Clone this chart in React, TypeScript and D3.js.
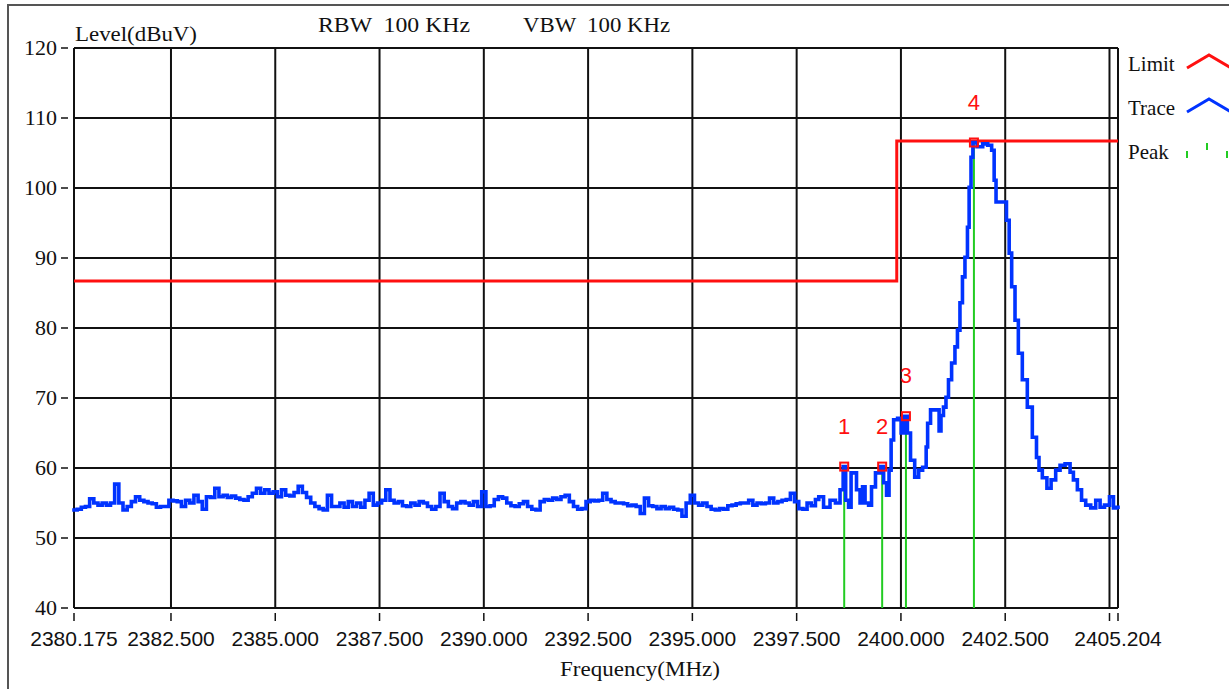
import React from "react";
import * as d3 from "d3";

// ---- data ----
const xTicks = [2380.175, 2382.5, 2385.0, 2387.5, 2390.0, 2392.5, 2395.0, 2397.5, 2400.0, 2402.5, 2405.0, 2405.204];
const xTickLabels = ["2380.175", "2382.500", "2385.000", "2387.500", "2390.000", "2392.500", "2395.000", "2397.500", "2400.000", "2402.500", "", "2405.204"];
const yTicks = [40, 50, 60, 70, 80, 90, 100, 110, 120];

// noise floor: levels every 0.1 MHz starting at 2380.2 MHz
const noiseStart = 2380.2;
const noiseStep = 0.1;
const noiseLevels = [
  54.0, 54.1, 54.4, 54.5, 55.6, 55.0, 54.7, 55.0, 54.7, 55.0,
  57.7, 55.0, 54.0, 54.5, 55.2, 55.9, 55.4, 55.2, 55.0, 54.9,
  54.4, 54.5, 54.5, 55.4, 55.3, 55.2, 54.5, 55.4, 55.0, 56.1,
  55.2, 54.1, 55.9, 55.8, 57.1, 55.9, 56.1, 55.8, 56.0, 55.7,
  55.5, 55.4, 55.9, 56.4, 57.1, 56.4, 56.9, 56.4, 56.6, 55.9,
  56.9, 56.1, 56.0, 56.5, 57.4, 56.5, 55.8, 55.0, 54.5, 54.2,
  54.0, 56.1, 54.5, 54.5, 55.0, 54.4, 55.2, 54.5, 55.0, 54.4,
  55.4, 56.4, 54.7, 55.0, 55.4, 56.9, 55.4, 55.0, 55.2, 54.6,
  54.5, 55.0, 54.7, 55.2, 55.0, 54.5, 54.1, 54.5, 56.4, 55.2,
  54.5, 54.2, 55.0, 55.2, 55.0, 54.7, 55.2, 54.5, 56.6, 54.5,
  54.6, 55.5, 55.9, 55.7, 55.0, 54.6, 54.5, 54.9, 55.2, 54.5,
  54.1, 54.0, 55.2, 55.5, 55.4, 55.7, 55.5, 55.9, 56.1, 55.2,
  54.5, 54.1, 54.2, 55.2, 55.4, 55.3, 55.4, 56.4, 55.5, 55.2,
  55.0, 55.0, 54.9, 54.6, 54.7, 54.5, 53.5, 55.7, 54.6, 54.5,
  54.2, 54.5, 54.2, 54.4, 54.1, 54.0, 53.1, 55.0, 56.1, 55.0,
  54.7, 55.0, 54.5, 54.1, 54.0, 54.2, 54.1, 54.6, 54.7, 54.9,
  55.0, 55.0, 55.4, 54.7, 55.0, 54.9, 55.0, 55.7, 55.0, 55.2,
  55.4, 55.5, 56.4, 55.2, 54.2, 54.1, 55.0, 54.6, 55.5,
];

// signal region: frequency MHz and level dBuV
const signalFreqs = [
  2398.06, 2398.23, 2398.37, 2398.49, 2398.59, 2398.64, 2398.71, 2398.78, 2398.83, 2398.90,
  2398.97, 2399.07, 2399.09, 2399.19, 2399.26, 2399.33, 2399.45, 2399.55, 2399.62, 2399.69,
  2399.74, 2399.79, 2399.86, 2399.98, 2400.03, 2400.12, 2400.19, 2400.27, 2400.39, 2400.46,
  2400.58, 2400.63, 2400.65, 2400.77, 2400.89, 2400.94, 2400.98, 2401.06, 2401.10, 2401.18,
  2401.25, 2401.34, 2401.37, 2401.46, 2401.49, 2401.58, 2401.61, 2401.66, 2401.70, 2401.75,
  2401.90, 2402.02, 2402.14, 2402.21, 2402.26, 2402.30, 2402.49, 2402.57, 2402.62, 2402.69,
  2402.78, 2402.85, 2402.97, 2403.09, 2403.21, 2403.29, 2403.33, 2403.45, 2403.55, 2403.65,
  2403.77, 2403.86, 2404.01, 2404.10, 2404.17, 2404.29, 2404.37, 2404.49, 2404.61, 2404.73,
  2404.82, 2404.94, 2405.06, 2405.13, 2405.204,
];
const signalLevels = [
  55.9, 54.4, 55.4, 55.0, 56.9, 60.2, 55.4, 54.4, 59.3, 59.3,
  56.9, 55.0, 57.3, 55.0, 54.7, 57.3, 59.3, 60.2, 57.9, 56.1,
  59.7, 64.0, 66.9, 67.1, 65.0, 67.4, 65.0, 61.1, 58.7, 59.7,
  60.1, 63.0, 66.4, 68.3, 68.3, 65.3, 67.5, 68.7, 70.1, 72.6,
  75.0, 77.3, 79.7, 83.6, 87.3, 90.1, 94.4, 100.1, 104.4, 106.5,
  105.9, 106.3, 106.1, 105.4, 101.1, 98.0, 98.0, 95.4, 90.7, 85.9,
  81.1, 76.4, 72.6, 68.7, 64.4, 61.5, 59.7, 58.6, 57.1, 58.3,
  59.7, 60.4, 60.6, 59.4, 58.3, 56.9, 55.4, 54.7, 54.3, 55.4,
  54.4, 54.7, 55.9, 54.3, 54.4,
];

// limit line
const limitFreqs = [2380.175, 2399.9, 2399.9, 2405.204];
const limitLevels = [86.7, 86.7, 106.7, 106.7];

// peaks
const peakLabels = ["1", "2", "3", "4"];
const peakFreqs = [2398.64, 2399.55, 2400.12, 2401.75];
const peakLevels = [60.2, 60.2, 67.4, 106.5];

const legendItems = ["Limit", "Trace", "Peak"];

export default function App() {
  const W = 1229, H = 689;
  const left = 74, right = 1118, top = 48, bottom = 608;
  const x = d3.scaleLinear().domain([2380.175, 2405.204]).range([left, right]);
  const y = d3.scaleLinear().domain([40, 120]).range([bottom, top]);

  const trace: [number, number][] = [
    [2380.175, noiseLevels[0]],
    ...noiseLevels.map((v, i) => [noiseStart + i * noiseStep, v] as [number, number]),
    ...signalFreqs.map((f, i) => [f, signalLevels[i]] as [number, number]),
  ];

  const line = d3.line<[number, number]>().x((d) => x(d[0])).y((d) => y(d[1]));
  const stepLine = d3.line<[number, number]>().x((d) => x(d[0])).y((d) => y(d[1])).curve(d3.curveStep);
  const limitPath = line(limitFreqs.map((f, i) => [f, limitLevels[i]]));
  const tracePath = stepLine(trace);

  const serif = "'Liberation Serif', 'DejaVu Serif', serif";
  const sans = "'Liberation Sans', Arial, sans-serif";
  const blue = "#0033ff";
  const red = "#ff1010";
  const green = "#22cc22";

  return (
    <svg width={W} height={H} style={{ position: "absolute", left: 0, top: 0, background: "#fff" }}>
      <rect x={0} y={0} width={W} height={H} fill="#fff" />
      <rect x={8} y={5} width={1400} height={900} fill="#fff" stroke="#555" strokeWidth={2} />

      {/* grid */}
      {yTicks.map((t) => (
        <line key={"gy" + t} x1={left} x2={right} y1={y(t)} y2={y(t)} stroke="#111" strokeWidth={2} />
      ))}
      {xTicks.map((t) => (
        <line key={"gx" + t} x1={x(t)} x2={x(t)} y1={top} y2={bottom} stroke="#111" strokeWidth={2} />
      ))}

      {/* y ticks and labels */}
      {yTicks.map((t) => (
        <g key={"ty" + t}>
          <line x1={61} x2={68} y1={y(t)} y2={y(t)} stroke="#111" strokeWidth={1.5} />
          <text x={57} y={y(t) + 7} textAnchor="end" fontFamily={serif} fontSize={22} fill="#111">
            {t}
          </text>
        </g>
      ))}

      {/* x ticks and labels */}
      {xTicks.map((t, i) => (
        <g key={"tx" + t}>
          <line x1={x(t)} x2={x(t)} y1={613} y2={621} stroke="#111" strokeWidth={1.5} />
          {xTickLabels[i] && (
            <text x={x(t)} y={646} textAnchor="middle" fontFamily={sans} fontSize={21} fill="#111">
              {xTickLabels[i]}
            </text>
          )}
        </g>
      ))}

      {/* titles */}
      <text x={75} y={41} fontFamily={serif} fontSize={21} fill="#111" textLength={122} lengthAdjust="spacingAndGlyphs">
        Level(dBuV)
      </text>
      <text x={318} y={32} fontFamily={serif} fontSize={21} fill="#111" textLength={152} lengthAdjust="spacingAndGlyphs" style={{ whiteSpace: "pre" }}>
        {"RBW  100 KHz"}
      </text>
      <text x={523} y={32} fontFamily={serif} fontSize={21} fill="#111" textLength={147} lengthAdjust="spacingAndGlyphs" style={{ whiteSpace: "pre" }}>
        {"VBW  100 KHz"}
      </text>
      <text x={560} y={676} fontFamily={serif} fontSize={21} fill="#111" textLength={160} lengthAdjust="spacingAndGlyphs">
        Frequency(MHz)
      </text>

      {/* peak drop lines */}
      {peakFreqs.map((f, i) => (
        <line key={"pl" + i} x1={x(f)} x2={x(f)} y1={y(peakLevels[i])} y2={bottom} stroke={green} strokeWidth={2} />
      ))}

      {/* limit */}
      <path d={limitPath || ""} fill="none" stroke={red} strokeWidth={3} />

      {/* trace */}
      <path d={tracePath || ""} fill="none" stroke={blue} strokeWidth={3.6} strokeLinejoin="miter" strokeLinecap="square" />

      {/* peak markers */}
      {peakFreqs.map((f, i) => (
        <g key={"pm" + i}>
          <rect x={x(f) - 4} y={y(peakLevels[i]) - 4} width={8} height={8} fill="none" stroke={red} strokeWidth={2} />
          <text x={x(f)} y={y(peakLevels[i]) - 33} textAnchor="middle" fontFamily={sans} fontSize={22} fill={red}>
            {peakLabels[i]}
          </text>
        </g>
      ))}

      {/* legend */}
      {legendItems.map((name, i) => (
        <text key={"lg" + name} x={1128} y={71 + i * 44} fontFamily={serif} fontSize={21} fill="#111">
          {name}
        </text>
      ))}
      <path d="M1187,68 L1209,55 L1231,68" fill="none" stroke={red} strokeWidth={3} />
      <path d="M1187,112 L1209,99 L1231,112" fill="none" stroke={blue} strokeWidth={3} />
      <line x1={1187} x2={1187} y1={151} y2={158} stroke={green} strokeWidth={2} />
      <line x1={1207} x2={1207} y1={143} y2={150} stroke={green} strokeWidth={2} />
      <line x1={1227} x2={1227} y1={151} y2={158} stroke={green} strokeWidth={2} />
    </svg>
  );
}
